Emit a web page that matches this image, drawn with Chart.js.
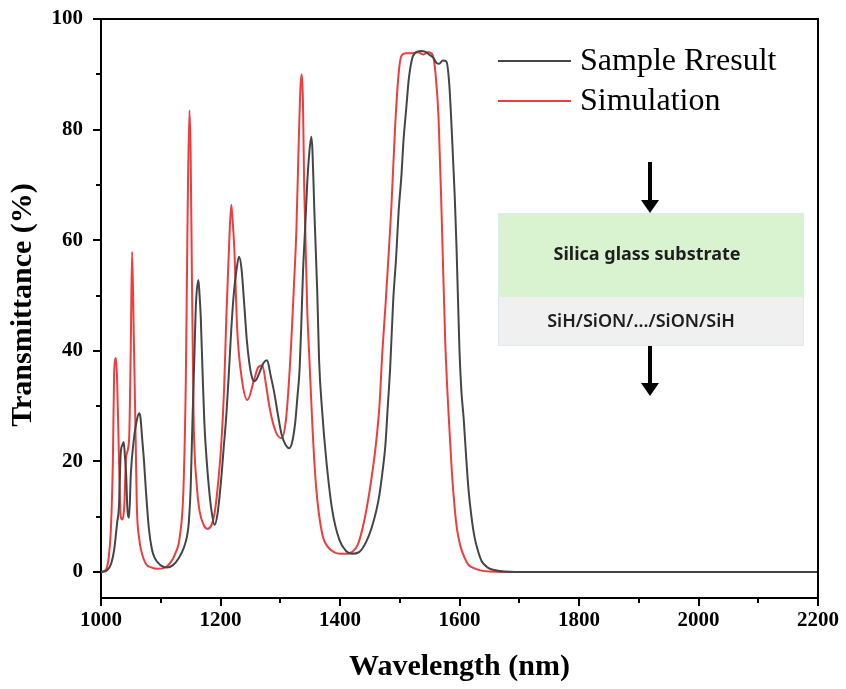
<!DOCTYPE html>
<html>
<head>
<meta charset="utf-8">
<script src="https://cdn.jsdelivr.net/npm/chart.js@4"></script>
<style>
  html, body { margin: 0; padding: 0; background: #fff; }
  #wrap { width: 846px; height: 689px; }
</style>
</head>
<body>
<div id="wrap"><canvas id="chart" width="846" height="689"></canvas></div>
<script>
const simWavelength = [1000, 1008, 1013, 1017, 1020, 1022, 1025, 1027, 1030, 1033, 1036, 1039, 1042, 1047, 1050, 1052, 1055, 1058, 1060, 1064, 1067, 1075, 1085, 1095, 1105, 1115, 1125, 1132, 1138, 1142, 1145, 1148, 1150, 1152, 1155, 1160, 1165, 1172, 1178, 1185, 1190, 1195, 1201, 1206, 1210, 1214, 1218, 1220, 1223, 1228, 1236, 1245, 1256, 1263, 1270, 1276, 1282, 1292, 1302, 1310, 1318, 1323, 1327, 1331, 1334, 1336, 1338, 1340, 1345, 1349, 1354, 1360, 1370, 1380, 1390, 1400, 1410, 1420, 1430, 1440, 1450, 1460, 1466, 1471, 1476, 1480, 1486, 1492, 1498, 1503, 1510, 1520, 1530, 1540, 1548, 1555, 1560, 1565, 1570, 1576, 1582, 1587, 1592, 1596, 1602, 1608, 1615, 1622, 1635, 1650, 1700, 1800, 1900, 2000, 2100, 2200];
const simTransmittance = [0, 0.4, 2.7, 8.9, 20.8, 36, 38.7, 34.7, 20.8, 10, 9.5, 12, 20.8, 23.9, 42, 57.9, 42, 24, 11.8, 6, 4, 1.5, 0.8, 0.6, 0.7, 1.5, 3.5, 6.5, 15, 35, 65, 83.5, 76, 55, 28, 16, 11, 8.5, 7.8, 8.5, 10.6, 15, 22.6, 33, 46.8, 58, 66.4, 64, 58.8, 43.8, 34.7, 31.1, 34.7, 37, 37.4, 34, 29.8, 25.5, 24.2, 28, 40.7, 52, 61.8, 78, 88, 90, 85, 70, 48, 38, 26, 15.4, 7, 4.5, 3.6, 3.3, 3.3, 3.6, 5, 9, 15, 23, 30, 40, 48, 55, 66, 80, 90, 93.4, 93.8, 93.8, 94, 93.6, 94, 93.5, 90, 82, 65, 42, 28, 18.5, 11.5, 7.6, 4.5, 2.7, 1.3, 0.8, 0.3, 0.1, 0, 0, 0, 0, 0, 0];

const sampleWavelength = [1000, 1010, 1017, 1022, 1027, 1030, 1033, 1036, 1038, 1040, 1042, 1044, 1047, 1050, 1055, 1060, 1064, 1066, 1069, 1072, 1075, 1080, 1085, 1090, 1100, 1110, 1120, 1130, 1139, 1144, 1147, 1150, 1153, 1156, 1159, 1163, 1165, 1167, 1170, 1173, 1177, 1181, 1185, 1190, 1195, 1201, 1205, 1210, 1214, 1218, 1222, 1226, 1231, 1235, 1240, 1244, 1248, 1252, 1256, 1260, 1265, 1272, 1278, 1284, 1290, 1296, 1302, 1308, 1315, 1320, 1325, 1329, 1332, 1335, 1338, 1342, 1345, 1348, 1352, 1354, 1357, 1362, 1365, 1370, 1377, 1387, 1399, 1410, 1420, 1432, 1444, 1453, 1461, 1466, 1471, 1476, 1480, 1484, 1489, 1494, 1498, 1503, 1506, 1511, 1515, 1520, 1525, 1535, 1544, 1550, 1556, 1562, 1566, 1572, 1578, 1583, 1588, 1592, 1595, 1600, 1603, 1607, 1611, 1615, 1620, 1625, 1631, 1637, 1645, 1653, 1668, 1685, 1700, 1800, 1900, 2000, 2100, 2200];
const sampleTransmittance = [0, 0.3, 1.5, 4, 8.9, 11.8, 21.5, 23, 23.5, 21, 17.9, 11.8, 9.8, 17.9, 24, 27.5, 28.7, 28, 24, 20, 15, 8, 4.2, 2.5, 1.2, 0.8, 1.2, 2.5, 4.5, 6.5, 9, 15, 27, 38, 48.6, 52.8, 50, 46, 36, 27, 20, 14.8, 11, 8.5, 10.5, 16.6, 22, 28.7, 36, 43.8, 50, 54, 57, 55, 48, 42, 38, 35.5, 34.5, 34.8, 36, 37.8, 38.3, 35.5, 32.4, 28.5, 25, 23.2, 22.4, 23.5, 27, 32, 36, 44, 54, 63, 70, 75, 78.7, 76, 65.5, 50.4, 38.3, 29.3, 20.3, 11.2, 5.8, 3.8, 3.3, 3.6, 5.5, 8, 11.2, 14, 18, 23, 30, 37, 49, 57, 65, 72, 77.6, 84, 89, 92.5, 93.8, 94.2, 94, 93.5, 93, 92, 91.9, 92.5, 92.3, 88, 77.6, 68, 58.8, 40, 33, 27.7, 21, 15, 10, 6.4, 3.8, 2, 1, 0.5, 0.2, 0.05, 0, 0, 0, 0, 0, 0];

const xTicks = [1000, 1200, 1400, 1600, 1800, 2000, 2200];
const yTicks = [0, 20, 40, 60, 80, 100];
const seriesNames = ['Sample Rresult', 'Simulation'];
const seriesColors = ['#454545', '#f03c3c'];
const insetLabels = ['Silica glass substrate', 'SiH/SiON/.../SiON/SiH'];

const toPoints = (xs, ys) => xs.map((x, i) => ({ x: x, y: ys[i] }));

Chart.defaults.font.family = "'Liberation Serif', 'Times New Roman', serif";
Chart.defaults.color = '#000';

// frame, minor ticks, axis titles, legend and the layer sketch
const decorations = {
  id: 'decorations',
  afterDraw(chart) {
    const ctx = chart.ctx;
    const area = chart.chartArea;
    const xs = chart.scales.x;
    const ys = chart.scales.y;
    ctx.save();
    ctx.strokeStyle = '#000';
    ctx.lineWidth = 2;
    ctx.beginPath();
    ctx.moveTo(area.left, area.top);
    ctx.lineTo(area.right, area.top);
    ctx.lineTo(area.right, area.bottom);
    ctx.stroke();

    // minor ticks
    ctx.beginPath();
    for (let v = 1100; v < 2200; v += 200) {
      const px = Math.round(xs.getPixelForValue(v));
      ctx.moveTo(px, area.bottom);
      ctx.lineTo(px, area.bottom + 5);
    }
    for (let v = 10; v < 100; v += 20) {
      const py = Math.round(ys.getPixelForValue(v));
      ctx.moveTo(area.left, py);
      ctx.lineTo(area.left - 5, py);
    }
    ctx.stroke();

    // axis titles
    ctx.fillStyle = '#000';
    ctx.font = "bold 30px 'Liberation Serif'";
    ctx.textAlign = 'center';
    ctx.textBaseline = 'middle';
    ctx.fillText('Wavelength (nm)', (area.left + area.right) / 2, 667);
    ctx.save();
    ctx.translate(23, 305);
    ctx.rotate(-Math.PI / 2);
    ctx.fillText('Transmittance (%)', 0, 0);
    ctx.restore();

    // legend
    ctx.font = "32px 'Liberation Serif'";
    ctx.textAlign = 'left';
    seriesNames.forEach((name, i) => {
      const y = 61 + i * 40;
      ctx.strokeStyle = seriesColors[i];
      ctx.lineWidth = 2;
      ctx.beginPath();
      ctx.moveTo(498, y);
      ctx.lineTo(571, y);
      ctx.stroke();
      ctx.fillStyle = '#000';
      ctx.fillText(name, 580, y + 1);
    });

    // layer sketch
    ctx.fillStyle = '#d9f2d0';
    ctx.fillRect(498, 213, 306, 84);
    ctx.fillStyle = '#f0f0f0';
    ctx.fillRect(498, 297, 306, 49);
    ctx.strokeStyle = '#dde9f3';
    ctx.lineWidth = 1;
    ctx.strokeRect(498.5, 213.5, 305, 132);
    ctx.fillStyle = '#1e1e1e';
    ctx.textAlign = 'center';
    ctx.font = "bold 18px 'Noto Sans'";
    ctx.fillText(insetLabels[0], 647, 255);
    ctx.font = "600 18px 'Noto Sans'";
    ctx.fillText(insetLabels[1], 641, 322);

    const arrow = (top, bottom) => {
      ctx.fillStyle = '#000';
      ctx.fillRect(648, top, 4, bottom - top - 12);
      ctx.beginPath();
      ctx.moveTo(641, bottom - 13);
      ctx.lineTo(659, bottom - 13);
      ctx.lineTo(650, bottom);
      ctx.closePath();
      ctx.fill();
    };
    arrow(162, 213);
    arrow(346, 396);
    ctx.restore();
  }
};

new Chart(document.getElementById('chart'), {
  type: 'line',
  data: {
    datasets: [
      {
        label: seriesNames[0],
        data: toPoints(sampleWavelength, sampleTransmittance),
        borderColor: seriesColors[0],
        borderWidth: 2,
        pointRadius: 0,
        cubicInterpolationMode: 'monotone',
      },
      {
        label: seriesNames[1],
        data: toPoints(simWavelength, simTransmittance),
        borderColor: seriesColors[1],
        borderWidth: 2,
        pointRadius: 0,
        cubicInterpolationMode: 'monotone',
      },
    ],
  },
  options: {
    responsive: false,
    animation: false,
    layout: { padding: { top: 19, right: 28, left: 0, bottom: 0 } },
    plugins: {
      legend: { display: false },
      tooltip: { enabled: false },
    },
    scales: {
      x: {
        type: 'linear',
        min: 1000,
        max: 2200,
        afterBuildTicks: (axis) => { axis.ticks = xTicks.map((v) => ({ value: v })); },
        afterFit: (axis) => { axis.height = 91; axis.paddingLeft = 0; axis.paddingRight = 0; },
        border: { color: '#000', width: 2 },
        grid: { drawOnChartArea: false, color: '#000', lineWidth: 2, tickLength: 8 },
        ticks: { font: { size: 21, weight: 'bold' }, padding: 2, maxRotation: 0, callback: (v) => String(v) },
      },
      y: {
        type: 'linear',
        min: -4.7,
        max: 100,
        afterBuildTicks: (axis) => { axis.ticks = yTicks.map((v) => ({ value: v })); },
        afterFit: (axis) => { axis.width = 101; axis.paddingTop = 0; axis.paddingBottom = 0; },
        border: { color: '#000', width: 2 },
        grid: { drawOnChartArea: false, color: '#000', lineWidth: 2, tickLength: 8 },
        ticks: { font: { size: 21, weight: 'bold' }, padding: 10, callback: (v) => String(v) },
      },
    },
  },
  plugins: [decorations],
});
</script>
</body>
</html>
